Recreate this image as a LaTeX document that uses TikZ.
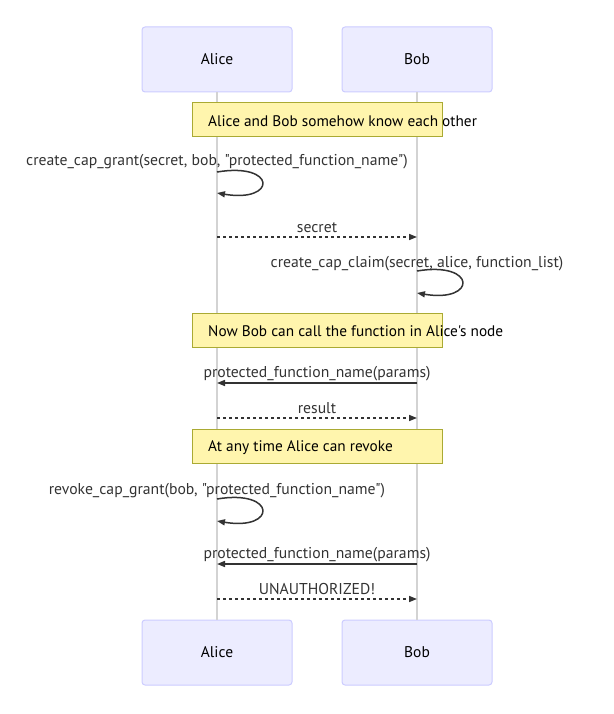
\documentclass[tikz,border=0pt]{standalone}
\usepackage{fontspec}
\setmainfont{PT Sans}
\newfontfamily\msgfont{PT Sans}
\usetikzlibrary{arrows.meta}
\definecolor{actfill}{HTML}{ECECFF}
\definecolor{actdraw}{HTML}{CCCCFF}
\definecolor{notefill}{HTML}{FFF5AD}
\definecolor{notedraw}{HTML}{AAAA33}
\definecolor{txt}{HTML}{333333}
\definecolor{lifec}{HTML}{D3D3D3}
\begin{document}
\begin{tikzpicture}[x=1pt,y=-1pt,
 actor/.style={draw=actdraw, fill=actfill, line width=1pt, rounded corners=3pt, minimum width=150pt, minimum height=65pt, inner sep=0pt, font=\fontsize{15.5}{18}\selectfont, text=black},
 notebox/.style={draw=notedraw, fill=notefill, line width=1pt, minimum width=250pt, minimum height=34pt, inner sep=0pt},
 notetext/.style={anchor=west, font=\msgfont\fontsize{15.3}{18}\selectfont, text=black, inner sep=0pt},
 msg/.style={font=\msgfont\fontsize{15.7}{18}\selectfont, text=txt, inner sep=0pt},
 solidarrow/.style={draw=txt, line width=1.5pt, -{Triangle[length=8pt,width=6pt]}},
 dottedarrow/.style={solidarrow, dash pattern=on 3pt off 3pt},
 lifeline/.style={draw=lifec, line width=1.5pt}
]
\useasboundingbox (0,0) rectangle (613,714);
% actors
\node[actor] (a1) at (217,59.5) {Alice};
\node[actor] (b1) at (417,59.5) {Bob};
\node[actor] (a2) at (217,652.5) {Alice};
\node[actor] (b2) at (417,652.5) {Bob};
\draw[lifeline] (a1.south) -- (a2.north);
\draw[lifeline] (b1.south) -- (b2.north);
% note 1
\node[notebox] (n1) at (317,120) {};
\node[notetext] (n1t) at (208,121) {Alice and Bob somehow know each other};
% loop 1
\node[msg] (m1) at (217,161.5) {create\_cap\_grant(secret, bob, "protected\_function\_name")};
\coordinate (l1s) at (217,172);
\coordinate (l1e) at (217,193);
\draw[solidarrow] (l1s) .. controls (277,162) and (277,203) .. (l1e);
% secret
\node[msg] (m2) at (317,227.5) {secret};
\coordinate (a3) at (217,237);
\coordinate (b3) at (417,237);
\draw[dottedarrow] (a3) -- (b3);
% loop 2
\node[msg] (m3) at (417,263.5) {create\_cap\_claim(secret, alice, function\_list)};
\coordinate (l2s) at (417,271);
\coordinate (l2e) at (417,293);
\draw[solidarrow] (l2s) .. controls (477,261) and (477,303) .. (l2e);
% note 2
\node[notebox] (n2) at (317,330.5) {};
\node[notetext] (n2t) at (208,331.5) {Now Bob can call the function in Alice's node};
% call
\node[msg] (m4) at (317,373.5) {protected\_function\_name(params)};
\coordinate (b4) at (417,383);
\coordinate (a4) at (217,383);
\draw[solidarrow] (b4) -- (a4);
% result
\node[msg] (m5) at (317,408.5) {result};
\coordinate (a5) at (217,418);
\coordinate (b5) at (417,418);
\draw[dottedarrow] (a5) -- (b5);
% note 3
\node[notebox] (n3) at (317,446.5) {};
\node[notetext] (n3t) at (208,447.5) {At any time Alice can revoke};
% loop 3
\node[msg] (m6) at (217,490.5) {revoke\_cap\_grant(bob, "protected\_function\_name")};
\coordinate (l3s) at (217,499);
\coordinate (l3e) at (217,521);
\draw[solidarrow] (l3s) .. controls (277,489) and (277,531) .. (l3e);
% call 2
\node[msg] (m7) at (317,554.5) {protected\_function\_name(params)};
\coordinate (b6) at (417,564);
\coordinate (a6) at (217,564);
\draw[solidarrow] (b6) -- (a6);
% unauthorized
\node[msg] (m8) at (317,588.5) {UNAUTHORIZED!};
\coordinate (a7) at (217,599);
\coordinate (b7) at (417,599);
\draw[dottedarrow] (a7) -- (b7);
\end{tikzpicture}
\end{document}
